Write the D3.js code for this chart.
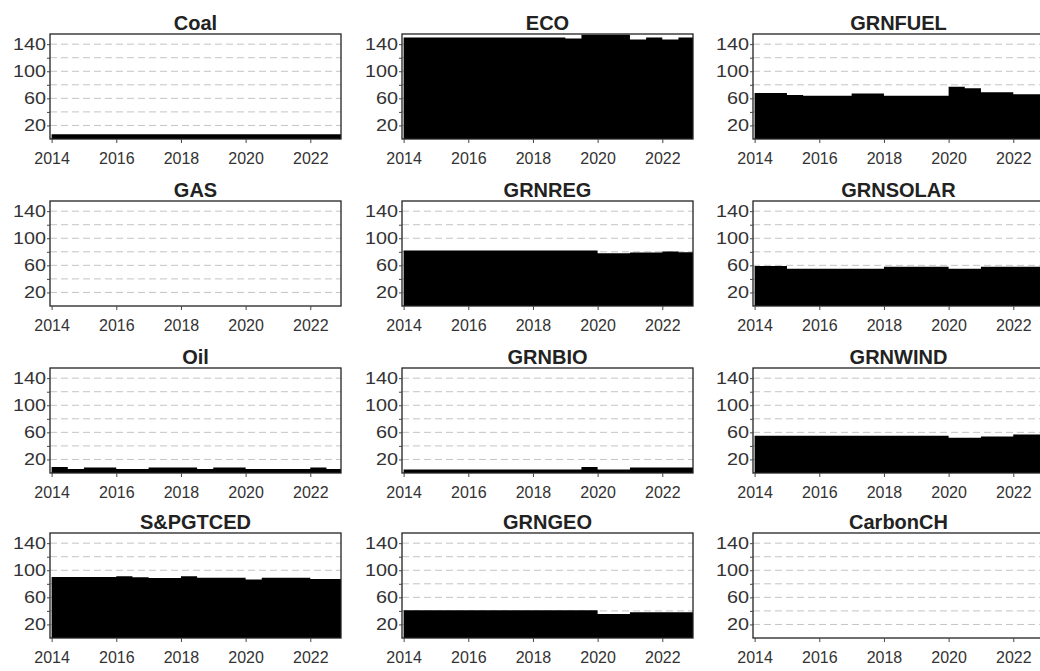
<!DOCTYPE html>
<html><head><meta charset="utf-8">
<script src="https://cdn.jsdelivr.net/npm/d3@7"></script>
<style>body{margin:0;background:#fff;overflow:hidden;} svg{display:block;}</style>
</head><body>
<svg id="c" width="1040" height="671"></svg>
<script>
// ---- data ----
const periods = [2014,2014.5,2015,2015.5,2016,2016.5,2017,2017.5,2018,2018.5,2019,2019.5,2020,2020.5,2021,2021.5,2022,2022.5];
const periodEnd = 2023;
const titles = ["Coal","ECO","GRNFUEL","GAS","GRNREG","GRNSOLAR","Oil","GRNBIO","GRNWIND","S&PGTCED","GRNGEO","CarbonCH"];
const coal     = [7,7,7,7,7,7,7,7,7,7,7,7,7,7,7,7,7,7];
const eco      = [150,150,150,150,150,150,150,150,150,150,148.5,154,154,154,147,150,147,150];
const grnfuel  = [68,68,65,64,64,64,67,67,64,64,64,64,77,75,69,69,66,66];
const gas      = [0,0,0,0,0,0,0,0,0,0,0,0,0,0,0,0,0,0];
const grnreg   = [82,82,82,82,82,82,82,82,82,82,82,82,78,78,79,79,80.5,79.5];
const grnsolar = [59,59,55,55,55,55,55,55,58,58,58,58,55,55,58,58,58,58];
const oil      = [9,6,8,8,6,6,8,8,8,6,8,8,6,6,6,6,8,6];
const grnbio   = [5,5,5,5,5,5,5,5,5,5,5,9,5,5,8,8,8,8];
const grnwind  = [55,55,55,55,55,55,55,55,55,55,55,55,52,52,54,54,57,57];
const spgtced  = [90,90,90,90,91,89.5,88.5,88.5,91,89,89,89,86.5,89,89,89,87,87];
const grngeo   = [41,41,41,41,41,41,41,41,41,41,41,41,35.5,35.5,38,38,38,38];
const carbonch = [0,0,0,0,0,0,0,0,0,0,0,0,0,0,0,0,0,0];
const seriesList = [coal,eco,grnfuel,gas,grnreg,grnsolar,oil,grnbio,grnwind,spgtced,grngeo,carbonch];
const yGridTicks = [20,40,60,80,100,120,140];
const yLabelTicks = [20,60,100,140];
const xTicks = [2014,2016,2018,2020,2022];

// ---- layout ----
const colX = [50,402,753];
const rowY = [34,201,368,533];
const W = 291, H = 105;
const FONT = "'Liberation Sans', Arial, sans-serif";

const svg = d3.select("#c");
svg.append("rect").attr("width",1040).attr("height",671).attr("fill","#fff");

const x = d3.scaleLinear().domain([2013.95, 2022.95]).range([0, W]);
const y = d3.scaleLinear().domain([0, 155]).range([H, 0]);
const area = d3.area().x(d => x(d.x)).y0(H).y1(d => y(d.v)).curve(d3.curveStepAfter);

titles.forEach((t, i) => {
  const col = i % 3, row = Math.floor(i / 3);
  const g = svg.append("g").attr("transform", `translate(${colX[col]},${rowY[row]})`);
  const cid = "clip" + i;
  g.append("clipPath").attr("id", cid).append("rect").attr("width", W).attr("height", H);

  // grid
  g.selectAll(".grid").data(yGridTicks).join("line")
    .attr("x1", 0).attr("x2", W).attr("y1", d => y(d)).attr("y2", d => y(d))
    .attr("stroke", "#c4c4c4").attr("stroke-width", 1).attr("stroke-dasharray", "7,4");

  // area
  const vals = seriesList[i];
  const pts = periods.map((p, k) => ({x: p, v: vals[k]}));
  pts.push({x: periodEnd, v: vals[vals.length - 1]});
  g.append("path").datum(pts).attr("d", area).attr("fill", "#000").attr("clip-path", `url(#${cid})`);

  // box
  g.append("rect").attr("width", W).attr("height", H).attr("fill", "none")
    .attr("stroke", "#222").attr("stroke-width", 1.3);

  // y axis
  const ya = g.append("g").call(d3.axisLeft(y).tickValues(yGridTicks).tickSize(3).tickPadding(1)
    .tickFormat(d => yLabelTicks.includes(d) ? String(d) : ""));
  ya.select(".domain").remove();
  ya.selectAll("line").attr("stroke", "#444");
  ya.selectAll("text").attr("font-family", FONT).attr("font-size", 16).attr("fill", "#333")
    .each(function(d){ const s = this.textContent; if (s) d3.select(this).attr("textLength", s.length * 11).attr("lengthAdjust", "spacingAndGlyphs"); });

  // x axis
  const xa = g.append("g").attr("transform", `translate(0,${H})`)
    .call(d3.axisBottom(x).tickValues(xTicks).tickSize(4).tickPadding(10).tickFormat(d3.format("d")));
  xa.select(".domain").remove();
  xa.selectAll("line").attr("stroke", "#444");
  xa.selectAll("text").attr("font-family", FONT).attr("font-size", 16).attr("fill", "#333");

  // title
  g.append("text").attr("x", W / 2).attr("y", -4).attr("text-anchor", "middle")
    .attr("font-family", FONT).attr("font-weight", "bold").attr("font-size", 20).attr("fill", "#222")
    .text(t);
});
</script>
</body></html>
